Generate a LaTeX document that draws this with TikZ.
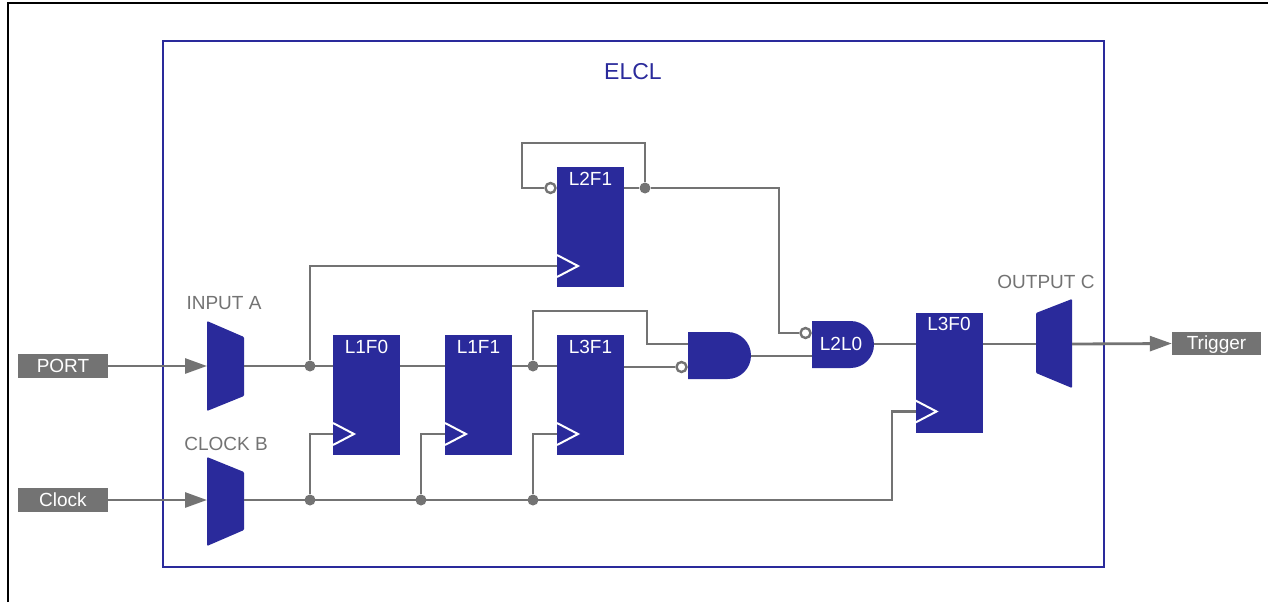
\documentclass[tikz,border=0pt]{standalone}
\usepackage{fontspec}
\setmainfont{Liberation Sans}
\usetikzlibrary{arrows.meta,calc}

\definecolor{chipblue}{RGB}{42,42,155}
\definecolor{wiregray}{RGB}{115,115,115}

\begin{document}
\begin{tikzpicture}[x=1pt,y=-1pt,
  wire/.style={draw=wiregray, line width=2.8pt},
  sig/.style={wire, -{Triangle[length=22pt,width=15pt]}},
  portbox/.style={fill=wiregray, text=white, minimum width=90pt, minimum height=24.5pt,
    inner sep=0pt, font=\fontsize{19}{22}\selectfont, text height=14pt, text depth=2pt},
  ff/.style={fill=chipblue, minimum width=67pt, minimum height=120pt, inner sep=0pt, outer sep=0pt},
  fflabel/.style={text=white, anchor=north, inner sep=0pt, font=\fontsize{19}{22}\selectfont},
  tag/.style={text=wiregray, inner sep=0pt, font=\fontsize{19}{22}\selectfont},
  dot/.style={circle, fill=wiregray, minimum size=11pt, inner sep=0pt},
  bubble/.style={circle, draw=wiregray, fill=white, line width=2.4pt, minimum size=10pt, inner sep=0pt},
  blk/.style={fill=chipblue, rounded corners=1pt},
]
  \useasboundingbox (0,0) rectangle (1268,602);

  % Draw outer frame and ELCL block
  \draw[line width=2.8pt] (8,602) -- (8,3) -- (1268,3);
  \draw[chipblue, line width=2.7pt] (163,41) rectangle (1104,567);
  \node[text=chipblue, inner sep=0pt, font=\fontsize{23}{26}\selectfont] (elcl) at (633,72) {ELCL};

  % ports
  \node[portbox] (port) at (63,366) {PORT};
  \node[portbox] (clk) at (63,500) {Clock};
  \node[portbox, minimum width=89pt, minimum height=23pt] (trig) at (1216.5,343.5) {Trigger};

  % muxes
  \fill[blk] (207,321) -- (244,337) -- (244,396) -- (207,411) -- cycle;
  \fill[blk] (207,457) -- (244,472) -- (244,530) -- (207,546) -- cycle;
  \fill[blk] (1036,313) -- (1072,299) -- (1072,388) -- (1036,373) -- cycle;
  \coordinate (ina-in) at (207,366);
  \coordinate (ina-out) at (244,366);
  \coordinate (clkb-in) at (207,500);
  \coordinate (clkb-out) at (244,500);
  \coordinate (outc-in) at (1036,344);
  \coordinate (outc-out) at (1072,344);
  \node[tag] (ina) at (224,303) {INPUT A};
  \node[tag] (clkb) at (226,444) {CLOCK B};
  \node[tag] (outc) at (1046,282) {OUTPUT C};

  % flip-flops
  \node[ff] (l1f0) at (366.5,395) {};
  \node[ff] (l1f1) at (478.5,395) {};
  \node[ff] (l3f1) at (590.5,395) {};
  \node[ff] (l2f1) at (590.5,227) {};
  \node[ff] (l3f0) at (949,372.5) {};
  \foreach \f/\t in {l1f0/L1F0, l1f1/L1F1, l3f1/L3F1, l2f1/L2F1, l3f0/L3F0} {
    \node[fflabel] (\f-lbl) at ($(\f.north)+(0,5)$) {\t};
    \coordinate (\f-clk) at ($(\f.south west)+(0,-21)$);
    \draw[white, line width=2pt] ($(\f-clk)+(0,-11)$) -- ++(21,11) -- ++(-21,11);
  }

  % gates
  \fill[chipblue] (688,332) -- (727.5,332) arc[start angle=90, end angle=-90, radius=23.5pt] -- (688,379) -- cycle;
  \fill[chipblue] (812,321) -- (850.5,321) arc[start angle=90, end angle=-90, radius=23.5pt] -- (812,368) -- cycle;
  \node[text=white, inner sep=0pt, font=\fontsize{19}{22}\selectfont] (l2l0) at (841,344) {L2L0};
  \coordinate (and-in1) at (688,344);
  \coordinate (and-out) at (751,356);
  \coordinate (l2l0-in2) at (812,356);
  \coordinate (l2l0-out) at (874,344);
  \node[bubble] (nb1) at (681.5,367) {};
  \node[bubble] (nb2) at (805.5,333) {};
  \node[bubble] (nb3) at (550.5,188) {};

  % junctions and bends
  \node[dot] (ja) at (310,366) {};
  \node[dot] (jd) at (533,366) {};
  \node[dot] (jf) at (645,188) {};
  \node[dot] (jc1) at (310,500) {};
  \node[dot] (jc2) at (421,500) {};
  \node[dot] (jc3) at (533,500) {};
  \coordinate (loop) at (522,143);
  \coordinate (fb) at (647,311);
  \coordinate (q) at (779,188);
  \coordinate (cbend) at (892,500);

  % input and clock wiring
  \draw[sig] (port.east) -- (ina-in);
  \draw[sig] (clk.east) -- (clkb-in);
  \draw[wire] (ina-out) -- (l1f0.west |- ina-out);
  \draw[wire] (ja) |- (l2f1-clk);
  \draw[wire] (clkb-out) -- (cbend) |- (l3f0-clk);
  \draw[wire] (jc1) |- (l1f0-clk);
  \draw[wire] (jc2) |- (l1f1-clk);
  \draw[wire] (jc3) |- (l3f1-clk);

  % data chain
  \draw[wire] (l1f0.east |- ja) -- (l1f1.west |- ja);
  \draw[wire] (l1f1.east |- ja) -- (l3f1.west |- ja);
  \draw[wire] (jd) |- (fb) |- (and-in1);
  \draw[wire] (l3f1.east |- nb1) -- (nb1);
  \draw[wire] (and-out) -- (l2l0-in2);

  % toggle loop
  \draw[wire] (l2f1.east |- nb3) -- (jf);
  \draw[wire] (jf) |- (loop) |- (nb3);
  \draw[wire] (jf) -- (q) |- (nb2);

  % output
  \draw[wire] (l2l0-out) -- (l3f0.west |- l2l0-out);
  \draw[wire] (l3f0.east |- l2l0-out) -- (outc-in);
  \draw[sig] (outc-out) -- (trig.west);
\end{tikzpicture}
\end{document}
